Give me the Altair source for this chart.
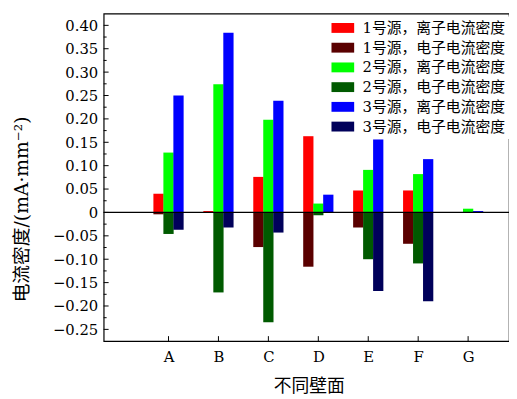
import altair as alt
import pandas as pd

groups = ["A", "B", "C", "D", "E", "F", "G"]
positions = [1, 2, 3, 4, 5, 6, 7]
series_names = [
    "1号源，离子电流密度",
    "1号源，电子电流密度",
    "2号源，离子电流密度",
    "2号源，电子电流密度",
    "3号源，离子电流密度",
    "3号源，电子电流密度",
]
colors = ["#ff0000", "#5a0000", "#00ff00", "#005a00", "#0000ff", "#00005a"]
offsets = [-0.2, -0.2, 0.0, 0.0, 0.2, 0.2]

ion1 = [0.040, 0.003, 0.076, 0.163, 0.047, 0.047, 0.0]
ele1 = [-0.004, 0.0, -0.074, -0.116, -0.032, -0.067, 0.0]
ion2 = [0.128, 0.274, 0.198, 0.019, 0.091, 0.082, 0.008]
ele2 = [-0.046, -0.171, -0.235, -0.006, -0.100, -0.109, 0.0]
ion3 = [0.250, 0.384, 0.239, 0.038, 0.156, 0.114, 0.003]
ele3 = [-0.037, -0.032, -0.043, 0.0, -0.168, -0.190, 0.0]
values = [ion1, ele1, ion2, ele2, ion3, ele3]

y_major = [-0.25, -0.20, -0.15, -0.10, -0.05, 0.0, 0.05, 0.10, 0.15, 0.20, 0.25, 0.30, 0.35, 0.40]
y_minor = [-0.225, -0.175, -0.125, -0.075, -0.025, 0.025, 0.075, 0.125, 0.175, 0.225, 0.275, 0.325, 0.375]

rows = []
for s, name in enumerate(series_names):
    for g, (lab, p) in enumerate(zip(groups, positions)):
        rows.append({"series": name, "group": lab, "pos": p + offsets[s], "value": values[s][g]})
df = pd.DataFrame(rows)

W, H = 411, 332
xscale = alt.Scale(domain=[-0.2, 7.72], nice=False, zero=False)
yscale = alt.Scale(domain=[-0.275, 0.425], nice=False, zero=False)
FONT = "DejaVu Serif, Noto Sans CJK SC"

xaxis = alt.Axis(values=positions,
                 labelExpr="['','A','B','C','D','E','F','G'][datum.value]",
                 title="不同壁面", titleX=208, titleY=46, titleFontSize=18,
                 titleAnchor="middle", titleBaseline="middle",
                 labelPadding=9, labelOverlap=False, labelFlush=False)
yaxis = alt.Axis(values=y_major, tickCount=14,
                 labelExpr="abs(datum.value) < 1e-9 ? '0' : replace(format(datum.value, '.2f'), '-', '−')",
                 title="电流密度/(mA·mm⁻²)", titleX=-83, titleY=198, titleFontSize=19,
                 titleAngle=-90, titleAlign="center", titleBaseline="middle",
                 labelPadding=6, labelOverlap=False, labelFlush=False)

bars = alt.Chart(df).mark_bar(size=10.4).encode(
    x=alt.X("pos:Q", scale=xscale, axis=xaxis),
    y=alt.Y("value:Q", scale=yscale, axis=yaxis),
    color=alt.Color("series:N",
                    scale=alt.Scale(domain=series_names, range=colors),
                    legend=alt.Legend(title=None, orient="none", legendX=231, legendY=3,
                                      fillColor="white", padding=4,
                                      symbolType="M-2.3,-1H2.3V1H-2.3Z", symbolSize=100,
                                      symbolStrokeWidth=0, symbolOpacity=1,
                                      labelFont=FONT, labelFontSize=15, labelColor="black",
                                      labelOffset=12.5, rowPadding=4, labelLimit=400)),
)

zero_df = pd.DataFrame({"value": [0.0]})
zero_line = alt.Chart(zero_df).mark_rule(color="black", strokeWidth=1.3).encode(
    y=alt.Y("value:Q", scale=yscale)
)

ymaj_df = pd.DataFrame({"value": y_major})
ymin_df = pd.DataFrame({"value": y_minor})
xt_df = pd.DataFrame({"pos": positions})

ytick_major = alt.Chart(ymaj_df).mark_rule(color="black", strokeWidth=1).encode(
    y=alt.Y("value:Q", scale=yscale), x=alt.value(0), x2=alt.value(5)
)
ytick_minor = alt.Chart(ymin_df).mark_rule(color="black", strokeWidth=1).encode(
    y=alt.Y("value:Q", scale=yscale), x=alt.value(0), x2=alt.value(3)
)
xtick = alt.Chart(xt_df).mark_rule(color="black", strokeWidth=1).encode(
    x=alt.X("pos:Q", scale=xscale), y=alt.value(H), y2=alt.value(H - 5)
)

chart = alt.layer(bars, zero_line, ytick_major, ytick_minor, xtick).properties(
    width=W, height=H,
    autosize=alt.AutoSizeParams(type="none"),
    padding={"left": 97, "top": 3, "right": 0, "bottom": 56},
).configure_view(
    stroke="black", strokeWidth=1.2, fill="white"
).configure_axis(
    tickSize=0, domain=False, grid=False, labelOverlap=False, labelFlush=False,
    labelFont=FONT, labelFontSize=15, labelColor="black",
    titleFont=FONT, titleFontWeight="normal", titleColor="black",
)

chart.save("out.html", embed_options={"renderer": "svg", "actions": False})
